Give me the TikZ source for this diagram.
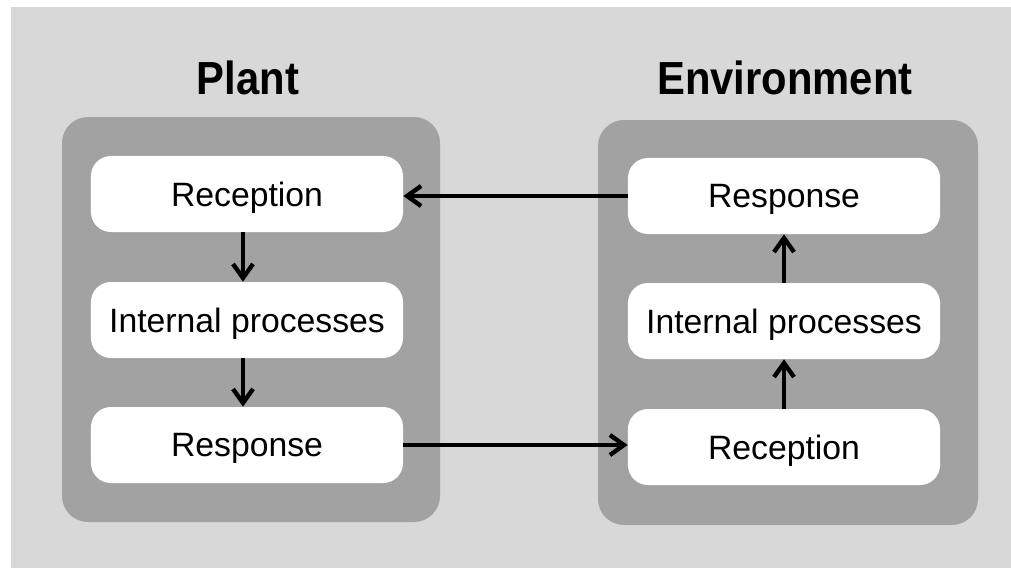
\documentclass[tikz,border=0pt]{standalone}
\usepackage{fontspec}
\setmainfont{Liberation Sans}
\newfontfamily\headfont[FakeStretch=0.9]{Liberation Sans Bold}
\usetikzlibrary{positioning,arrows.meta}
\definecolor{bggray}{HTML}{D8D8D8}
\definecolor{panelgray}{HTML}{A2A2A2}
\tikzset{
    stage/.style={
        rectangle,
        fill=white,
        rounded corners=0.5cm,
        minimum width=7.8cm,
        minimum height=1.9cm,
        text depth=0pt,
        font=\fontsize{24}{28}\selectfont
    },
    panel/.style={fill=panelgray, rounded corners=0.65cm},
    title/.style={font=\fontsize{33}{38}\selectfont\headfont},
    arrow/.style={-{Straight Barb[length=3.5mm,width=5mm]}, line width=3.1pt}
}

\begin{document}
\begin{tikzpicture}[x=0.025cm,y=-0.025cm]
    % background and frame
    \fill[white] (0,0) rectangle (1011,568);
    \fill[bggray] (11,7) rectangle (1011,568);
    \useasboundingbox (0,0) rectangle (1011,568);

    % the two grey panels
    \fill[panel] (62,117) rectangle (440,522);
    \fill[panel] (598,120) rectangle (978,525);

    \node[title] (plantT) at (248,78) {Plant};
    \node[title] (envT) at (785,78) {Environment};

    % plant side
    \node[stage] (pRec) at (247,194) {Reception};
    \node[stage] (pInt) at (247,320) {Internal processes};
    \node[stage] (pRes) at (247,445) {Response};

    % environment side
    \node[stage] (eRes) at (784,196) {Response};
    \node[stage] (eInt) at (784,321) {Internal processes};
    \node[stage] (eRec) at (784,447) {Reception};

    \draw[arrow] ([xshift=-4*0.025cm]pRec.south) -- ([xshift=-4*0.025cm]pInt.north);
    \draw[arrow] ([xshift=-4*0.025cm]pInt.south) -- ([xshift=-4*0.025cm]pRes.north);
    \draw[arrow] (eRec) -- (eInt);
    \draw[arrow] (eInt) -- (eRes);
    \draw[arrow] (eRes.west) -- (pRec.east |- eRes.west);
    \draw[arrow] (pRes.east) -- (eRec.west |- pRes.east);
\end{tikzpicture}
\end{document}
